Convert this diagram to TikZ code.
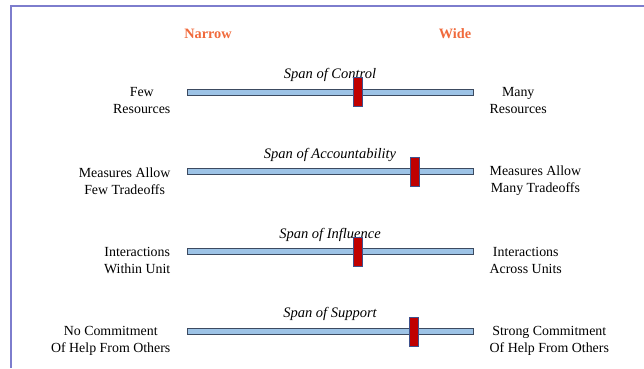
\documentclass[tikz,border=0pt]{standalone}
\usepackage{fontspec}
\setmainfont{Liberation Serif}
\usetikzlibrary{
  positioning,
}
\definecolor{barblue}{RGB}{157,195,230}
\definecolor{baredge}{RGB}{60,74,96}
\definecolor{knobred}{RGB}{192,0,0}
\definecolor{knobedge}{RGB}{63,81,140}
\definecolor{headorange}{RGB}{240,106,60}
\definecolor{framelilac}{RGB}{125,125,205}
\tikzstyle{slidebar} = [
  rectangle,
  draw=baredge,
  fill=barblue,
  line width=0.9pt,
  minimum width=286pt,
  minimum height=6pt,
  inner sep=0pt,
]
\tikzstyle{knob} = [
  rectangle,
  draw=knobedge,
  fill=knobred,
  line width=1.2pt,
  minimum width=9pt,
  minimum height=29pt,
  inner sep=0pt,
]
\tikzstyle{spanlabel} = [inner sep=0pt,font=\fontsize{14.5}{17}\selectfont\itshape]
\tikzstyle{sidelabel} = [inner sep=0pt,align=center,font=\fontsize{13.9}{17}\selectfont]
\tikzstyle{headword} = [inner sep=0pt,font=\fontsize{14.3}{17}\selectfont\bfseries,text=headorange]

\begin{document}
\begin{tikzpicture}[node distance=73pt and 16pt]
			\useasboundingbox (0,0) rectangle (644pt,368pt);
			\draw[framelilac,line width=1.5pt] (11pt,0pt) -- (11pt,362pt) -- (644pt,362pt);

			\node[headword] (narrow) at (208pt,334pt) {Narrow};
			\node[headword] (wide) at (455pt,334pt) {Wide};

			\node[slidebar] (bar1) at (330pt,276pt) {};
			\node[slidebar] (bar2) [below=of bar1] {};
			\node[slidebar] (bar3) [below=of bar2] {};
			\node[slidebar] (bar4) [below=of bar3] {};

			\node[spanlabel] (span1) [above=7pt of bar1] {Span of Control};
			\node[spanlabel] (span2) [above=7pt of bar2] {Span of Accountability};
			\node[spanlabel] (span3) [above=7pt of bar3] {Span of Influence};
			\node[spanlabel] (span4) [above=7pt of bar4] {Span of Support};

			\node[knob] (knob1) at ([xshift=28pt]bar1.center) {};
			\node[knob] (knob2) at ([xshift=85pt]bar2.center) {};
			\node[knob] (knob3) at ([xshift=28pt]bar3.center) {};
			\node[knob] (knob4) at ([xshift=84pt]bar4.center) {};

			\node[sidelabel,yshift=-9pt] (few) [left=of bar1] {Few\\Resources};
			\node[sidelabel,yshift=-9pt] (many) [right=of bar1] {Many\\Resources};
			\node[sidelabel,yshift=-9pt] (fewtrade) [left=of bar2] {Measures Allow\\Few Tradeoffs};
			\node[sidelabel,yshift=-9pt] (manytrade) [right=of bar2] {Measures Allow\\Many Tradeoffs};
			\node[sidelabel,yshift=-9pt] (within) [left=of bar3] {Interactions\\Within Unit};
			\node[sidelabel,yshift=-9pt] (across) [right=of bar3] {Interactions\\Across Units};
			\node[sidelabel,yshift=-9pt] (nohelp) [left=of bar4] {No Commitment\\Of Help From Others};
			\node[sidelabel,yshift=-9pt] (stronghelp) [right=of bar4] {Strong Commitment\\Of Help From Others};
		\end{tikzpicture}
\end{document}
